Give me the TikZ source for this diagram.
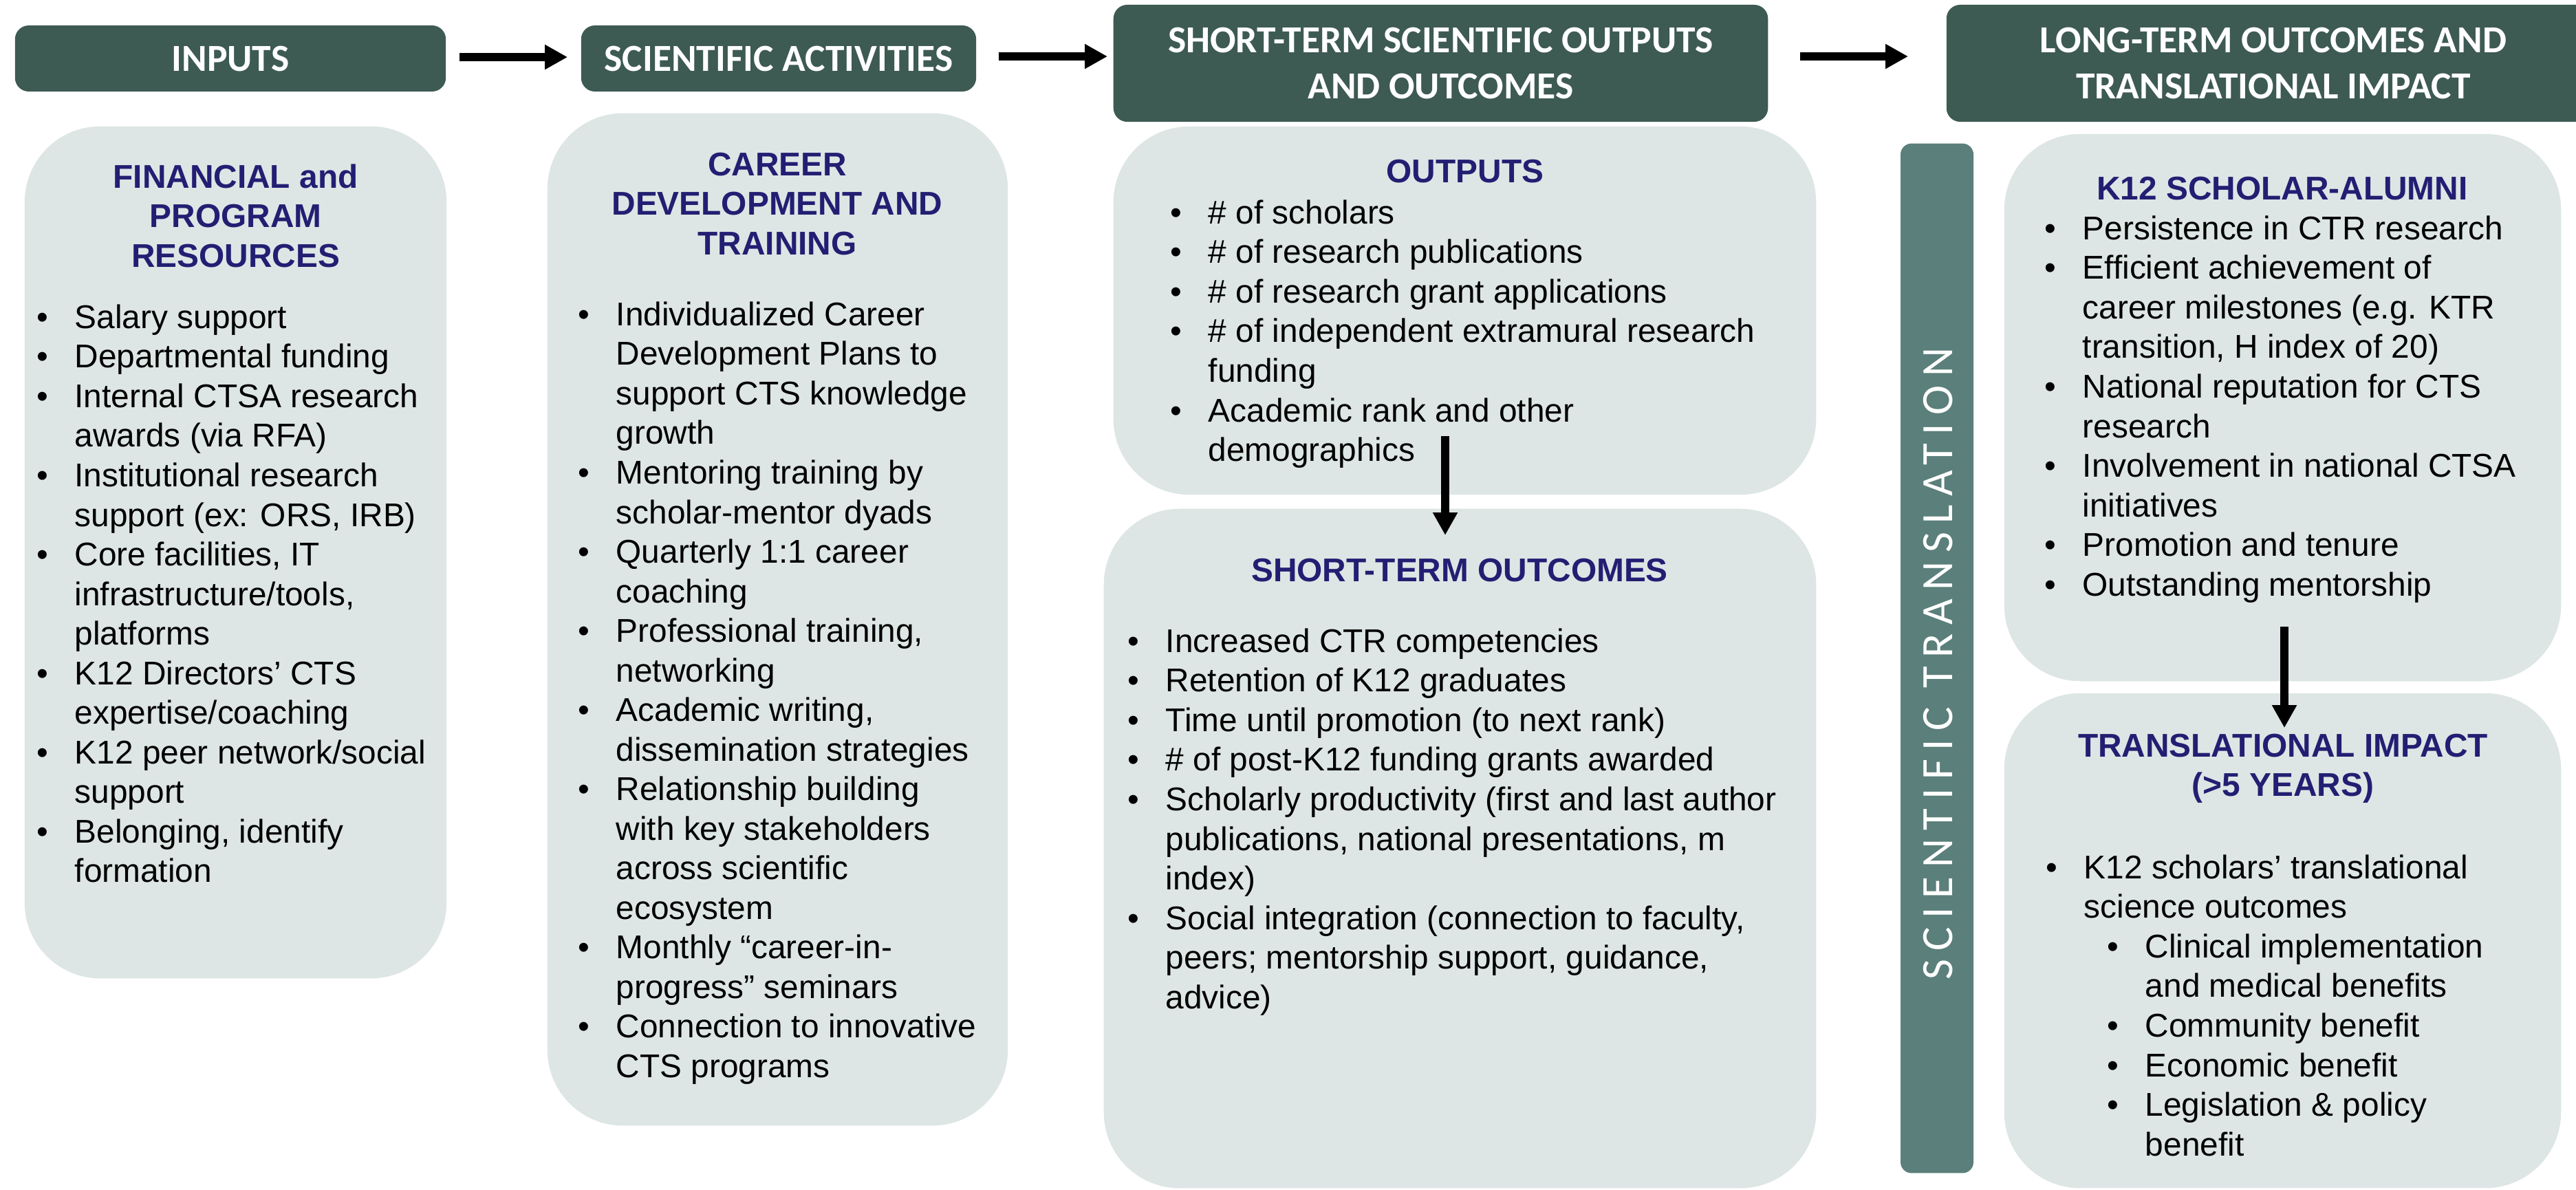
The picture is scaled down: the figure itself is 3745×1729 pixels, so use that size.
\documentclass[tikz,border=0pt]{standalone}
\usepackage{fontspec}
\setmainfont{Liberation Sans}
\newfontfamily\hdfont{Carlito}
\newfontfamily\sctfont[LetterSpace=19.3]{Carlito}
\usetikzlibrary{arrows.meta,calc}
\definecolor{hdcol}{HTML}{3D5A53}
\definecolor{ltcol}{HTML}{DDE6E4}
\definecolor{navy}{HTML}{221F73}
\definecolor{barcol}{HTML}{5B7F7A}
\newcommand\bitem{\makebox[0.55cm][l]{•}}
\newcommand\bcont{\hspace*{0.55cm}}
\newcommand\sbitem{\hspace*{0.89cm}\makebox[0.55cm][l]{•}}
\newcommand\sbcont{\hspace*{1.44cm}}
\tikzset{
  hdbox/.style={fill=hdcol, rounded corners=0.2cm, inner sep=0pt, text=white,
    font=\hdfont\bfseries\fontsize{15.8}{19}\selectfont, align=center},
  ltbox/.style={fill=ltcol, rounded corners=1.1cm, inner sep=0pt},
  ttl/.style={text=navy, font=\bfseries\fontsize{13.6}{16.36}\selectfont,
    align=center, inner sep=0pt, anchor=north},
  blist/.style={text=black, font=\fontsize{13.6}{16.36}\selectfont,
    align=left, inner sep=0pt, anchor=north west},
  bigarrow/.style={line width=0.12cm, -{Triangle[length=0.33cm,width=0.34cm]}}
}
\begin{document}
\begin{tikzpicture}[x=0.01cm,y=-0.01cm]
\useasboundingbox (0,0) rectangle (3745,1729);
\fill[white] (0,0) rectangle (3745,1729);

% header boxes
\node[hdbox, minimum width=6.26cm, minimum height=0.96cm] (inputs) at (335,85) {INPUTS};
\node[hdbox, minimum width=5.74cm, minimum height=0.96cm] (sciact) at (1132,85) {SCIENTIFIC ACTIVITIES};
\node[hdbox, minimum width=9.51cm, minimum height=1.70cm] (sthead) at (2094.5,92) {SHORT-TERM SCIENTIFIC OUTPUTS\\AND OUTCOMES};
\node[hdbox, minimum width=9.50cm, minimum height=1.70cm] (lthead) at (3305,92) {LONG-TERM OUTCOMES AND\\TRANSLATIONAL IMPACT};

% header arrows
\draw[bigarrow] ($(inputs.east)+(19,-2)$) -- ($(sciact.west)+(-19,-2)$);
\draw[bigarrow] ($(sciact.east)+(32,-3)$) -- ($(sthead.west)+(-8,-10)$);
\draw[bigarrow] ($(sthead.east)+(46,-10)$) -- ($(lthead.west)+(-55,-10)$);

% light boxes
\node[ltbox, minimum width=6.13cm, minimum height=12.38cm] (finbox) at (342.5,803) {};
\node[ltbox, minimum width=6.69cm, minimum height=14.71cm] (carbox) at (1130.5,900.5) {};
\node[ltbox, minimum width=10.21cm, minimum height=5.35cm] (outbox) at (2129.5,451.5) {};
\node[ltbox, minimum width=10.35cm, minimum height=9.87cm] (stobox) at (2122.5,1233.5) {};
\node[ltbox, minimum width=8.09cm, minimum height=7.95cm] (k12box) at (3318.5,592.5) {};
\node[ltbox, minimum width=8.09cm, minimum height=7.19cm] (tibox) at (3318.5,1367.5) {};

% scientific translation bar
\node[fill=barcol, rounded corners=0.16cm, inner sep=0pt, minimum width=1.06cm, minimum height=14.96cm] (sctbar) at (2816,957) {};
\node[rotate=90, text=white, inner sep=0pt, font=\sctfont\fontsize{18.5}{22}\selectfont] (sctlbl) at (2818,965) {SCIENTIFIC TRANSLATION};

% box 1
\node[ttl] (finttl) at (342.5,238) {FINANCIAL and\\PROGRAM\\RESOURCES};
\node[blist] (finlist) at (53,442) {%
\bitem Salary support\\
\bitem Departmental funding\\
\bitem Internal CTSA research\\
\bcont awards (via RFA)\\
\bitem Institutional research\\
\bcont support (ex: ORS, IRB)\\
\bitem Core facilities, IT\\
\bcont infrastructure/tools,\\
\bcont platforms\\
\bitem K12 Directors’ CTS\\
\bcont expertise/coaching\\
\bitem K12 peer network/social\\
\bcont support\\
\bitem Belonging, identify\\
\bcont formation};

% box 2
\node[ttl] (carttl) at (1130,221) {CAREER\\DEVELOPMENT AND\\TRAINING};
\node[blist] (carlist) at (840,438) {%
\bitem Individualized Career\\
\bcont Development Plans to\\
\bcont support CTS knowledge\\
\bcont growth\\
\bitem Mentoring training by\\
\bcont scholar-mentor dyads\\
\bitem Quarterly 1:1 career\\
\bcont coaching\\
\bitem Professional training,\\
\bcont networking\\
\bitem Academic writing,\\
\bcont dissemination strategies\\
\bitem Relationship building\\
\bcont with key stakeholders\\
\bcont across scientific\\
\bcont ecosystem\\
\bitem Monthly “career-in-\\
\bcont progress” seminars\\
\bitem Connection to innovative\\
\bcont CTS programs};

% outputs
\node[ttl] (outttl) at (2130,231) {OUTPUTS};
\node[blist] (outlist) at (1701,290) {%
\bitem \# of scholars\\
\bitem \# of research publications\\
\bitem \# of research grant applications\\
\bitem \# of independent extramural research\\
\bcont funding\\
\bitem Academic rank and other\\
\bcont demographics};

% short-term outcomes
\node[ttl] (stottl) at (2122,811) {SHORT-TERM OUTCOMES};
\node[blist] (stolist) at (1639,913) {%
\bitem Increased CTR competencies\\
\bitem Retention of K12 graduates\\
\bitem Time until promotion (to next rank)\\
\bitem \# of post-K12 funding grants awarded\\
\bitem Scholarly productivity (first and last author\\
\bcont publications, national presentations, m\\
\bcont index)\\
\bitem Social integration (connection to faculty,\\
\bcont peers; mentorship support, guidance,\\
\bcont advice)};

% K12 scholar-alumni
\node[ttl] (k12ttl) at (3318,256) {K12 SCHOLAR-ALUMNI};
\node[blist] (k12list) at (2972,313) {%
\bitem Persistence in CTR research\\
\bitem Efficient achievement of\\
\bcont career milestones (e.g. KTR\\
\bcont transition, H index of 20)\\
\bitem National reputation for CTS\\
\bcont research\\
\bitem Involvement in national CTSA\\
\bcont initiatives\\
\bitem Promotion and tenure\\
\bitem Outstanding mentorship};

% translational impact
\node[ttl] (tittl) at (3319,1066) {TRANSLATIONAL IMPACT\\(>5 YEARS)};
\node[blist] (tilist) at (2974,1242) {%
\bitem K12 scholars’ translational\\
\bcont science outcomes\\
\sbitem Clinical implementation\\
\sbcont and medical benefits\\
\sbitem Community benefit\\
\sbitem Economic benefit\\
\sbitem Legislation \& policy\\
\sbcont benefit};

% vertical arrows
\coordinate (va1s) at ($(outbox.south)+(-28.5,-86)$);
\coordinate (va1e) at ($(stobox.north)+(-21.5,39)$);
\draw[bigarrow] (va1s) -- (va1e);
\coordinate (va2s) at ($(k12box.south)+(2.5,-80)$);
\coordinate (va2e) at ($(tibox.north)+(2.5,51)$);
\draw[bigarrow] (va2s) -- (va2e);
\end{tikzpicture}
\end{document}
